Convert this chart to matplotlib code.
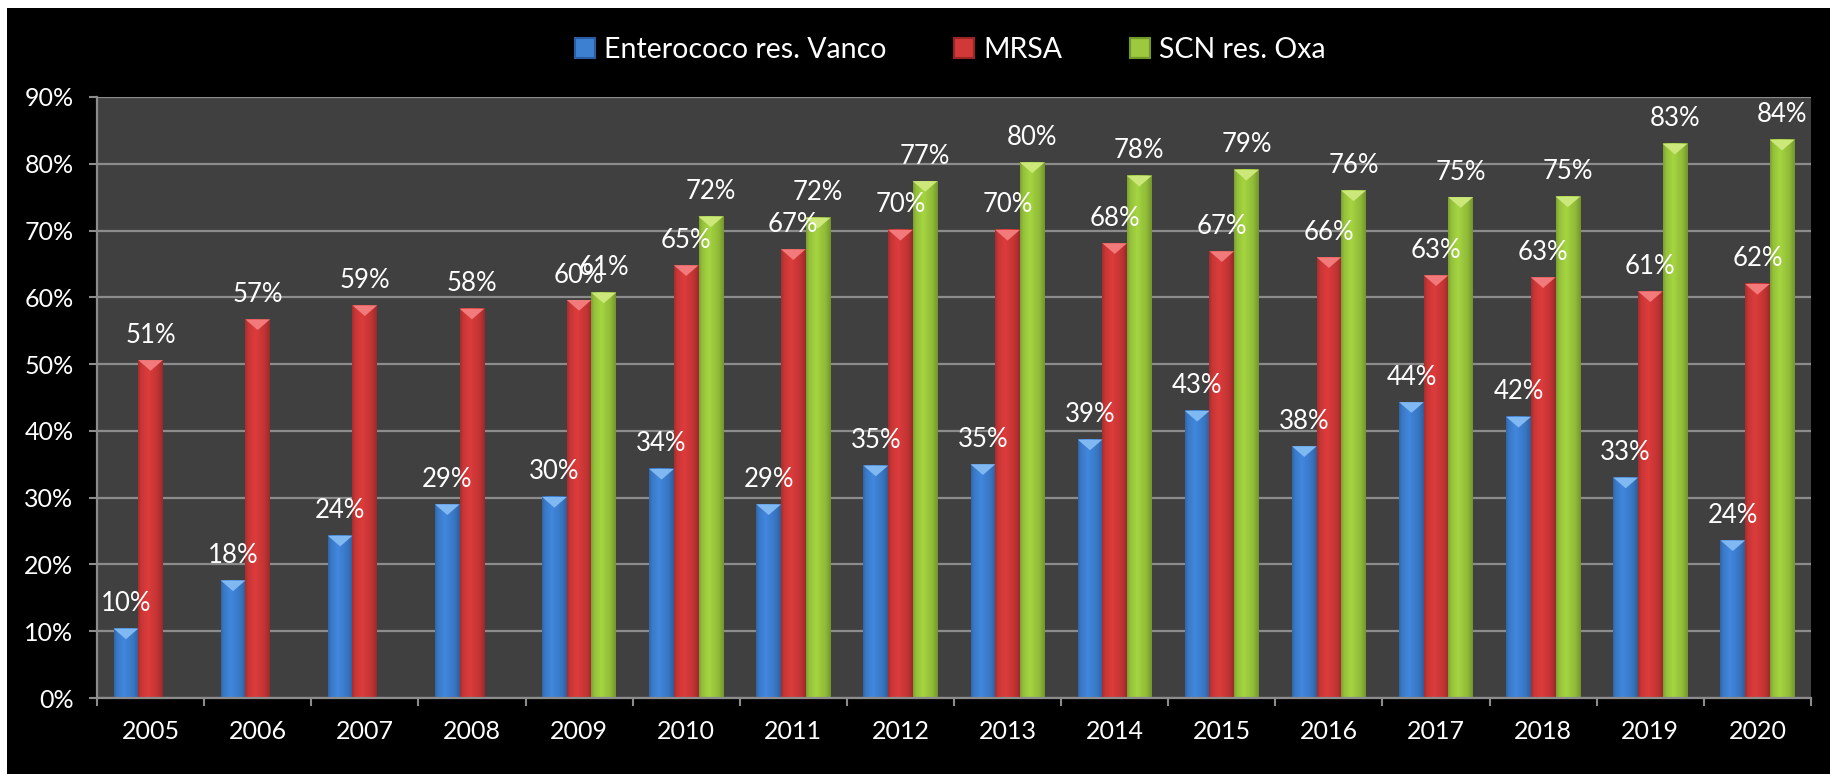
import numpy as np
import matplotlib.pyplot as plt
from matplotlib.patches import Rectangle, Polygon

plt.rcParams['font.family'] = ['Lato', 'DejaVu Sans']

# Dados
anos = ['2005', '2006', '2007', '2008', '2009', '2010', '2011', '2012',
        '2013', '2014', '2015', '2016', '2017', '2018', '2019', '2020']
entero = [10.4, 17.6, 24.3, 29.0, 30.1, 34.3, 29.0, 34.8,
          35.0, 38.7, 43.0, 37.7, 44.3, 42.1, 33.0, 23.6]
mrsa = [50.6, 56.7, 58.8, 58.3, 59.6, 64.8, 67.2, 70.1,
        70.1, 68.1, 66.9, 66.0, 63.3, 63.0, 60.9, 62.0]
# SCN só a partir de 2009
scn = [None, None, None, None, 60.7, 72.1, 71.9, 77.4,
       80.2, 78.2, 79.1, 76.0, 75.0, 75.1, 83.0, 83.6]
series_nomes = ['Enterococo res. Vanco', 'MRSA', 'SCN res. Oxa']

# cores: corpo, borda escura, topo claro
cores = [
    ((0.24, 0.50, 0.82), (0.16, 0.36, 0.64), (0.50, 0.72, 0.95)),
    ((0.82, 0.22, 0.22), (0.60, 0.14, 0.14), (0.95, 0.48, 0.48)),
    ((0.61, 0.79, 0.24), (0.44, 0.60, 0.16), (0.80, 0.91, 0.48)),
]

fig = plt.figure(figsize=(18.31, 7.74), dpi=100, facecolor='black')
ax = fig.add_axes([97 / 1831, 76 / 774, 1714 / 1831, 601 / 774])
ax.set_facecolor('#404040')

# faixas brancas (borda da captura)
fig.patches.append(Rectangle((0, 1 - 8 / 774), 1, 8 / 774, transform=fig.transFigure,
                             facecolor='white', edgecolor='none', zorder=10))
fig.patches.append(Rectangle((0, 0), 7 / 1831, 1, transform=fig.transFigure,
                             facecolor='white', edgecolor='none', zorder=10))

w = 0.23
t = np.linspace(0, 1, 64)
perfil = np.interp(t, [0, 0.12, 0.4, 0.8, 1], [0.80, 0.95, 1.06, 0.92, 0.74])

def barra(x0, h, cor):
    corpo, borda, topo = cor
    img = np.clip(np.array(corpo)[None, None, :] * perfil[None, :, None], 0, 1)
    ax.imshow(img, extent=(x0, x0 + w, 0, h), aspect='auto', zorder=2,
              interpolation='bilinear')
    d = 1.6
    ax.add_patch(Polygon([(x0, h), (x0 + w, h), (x0 + w / 2, h - d)],
                         closed=True, facecolor=topo, edgecolor='none', zorder=3))
    ax.annotate(f'{h:.0f}%', (x0 + w / 2, h), xytext=(0, 9), textcoords='offset points',
                ha='center', va='bottom', color='white', fontsize=18.5, zorder=4)

x = np.arange(len(anos))
for k, serie in enumerate([entero, mrsa, scn]):
    for i, v in enumerate(serie):
        if v is None:
            continue
        barra(x[i] + (k - 1) * w - w / 2, v, cores[k])

ax.set_xlim(-0.5, len(anos) - 0.5)
ax.set_ylim(0, 90)

ax.set_yticks(np.arange(0, 91, 10))
ax.set_yticklabels([f'{v}%' for v in range(0, 91, 10)])
ax.yaxis.grid(True, color='#8c8c8c', linewidth=1.6, zorder=1)
ax.set_axisbelow(True)

ax.set_xticks(np.arange(-0.5, len(anos), 1))
ax.set_xticklabels([])
ax.set_xticks(x, minor=True)
ax.set_xticklabels(anos, minor=True)
ax.tick_params(axis='x', which='major', length=6, width=1.5, color='#8c8c8c')
ax.tick_params(axis='x', which='minor', length=0, pad=16, labelsize=18, labelcolor='white')
ax.tick_params(axis='y', length=6, width=1.5, color='#8c8c8c', pad=11,
               labelsize=18, labelcolor='white')

for s in ['top', 'right']:
    ax.spines[s].set_visible(False)
for s in ['left', 'bottom']:
    ax.spines[s].set_color('#8c8c8c')
    ax.spines[s].set_linewidth(1.6)

handles = [Rectangle((0, 0), 1, 1, facecolor=c[0], edgecolor=c[1], linewidth=1.5)
           for c in cores]
fig.legend(handles, series_nomes, loc='center', bbox_to_anchor=(0.519, 0.935),
           ncol=3, frameon=False, fontsize=20.5, labelcolor='white',
           handlelength=0.7, handleheight=0.7, handletextpad=0.3, columnspacing=2.4)

fig.savefig('out.png', dpi=100, facecolor='black')
